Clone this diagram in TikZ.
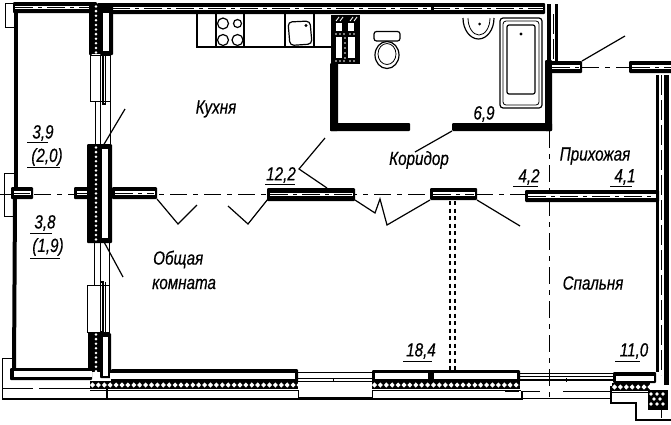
\documentclass[tikz,border=0pt]{standalone}
\usepackage{fontspec}
\setmainfont[ItalicFeatures={FakeBold=0.5}]{Liberation Sans}
\tikzset{
  x=1pt,y=-1pt,
  thinline/.style={draw=black,line width=.8pt},
  midline/.style={draw=black,line width=1.2pt},
  axisline/.style={draw=black,line width=1pt,dash pattern=on 17pt off 6pt on 5pt off 6pt},
  roomtext/.style={font=\itshape\fontsize{19}{21}\selectfont,xscale=.8,inner sep=0pt,anchor=center},
  underl/.style={draw=black,line width=1pt},
}
\newcommand{\wallbar}[4]{\fill[black,rounded corners=1pt] (#1,#2) rectangle (#3,#4);}
\newcommand{\hwall}[4]{\wallbar{#1}{#2}{#3}{#4}
  \fill[white] ({#1+2.5},{(#2+#4)/2-1.8}) rectangle ({#3-2.5},{(#2+#4)/2+1.8});
  \draw[black,line width=.9pt,dash pattern=on 18pt off 5pt on 4pt off 5pt] ({#1+3},{(#2+#4)/2}) -- ({#3-3},{(#2+#4)/2});}
\newcommand{\hhatch}[3]{\fill[black] (#1,{#3-4}) rectangle (#2,{#3+4});
  \pgfmathsetmacro{\xnext}{#1+5.9}
  \foreach \px in {#1,\xnext,...,#2}{\fill[white] (\px+2.5,#3-2.6) -- (\px+5,#3) -- (\px+2.5,#3+2.6) -- (\px,#3) -- cycle;}}
\newcommand{\vhatch}[3]{\fill[black] ({#3-4.5},#1) rectangle ({#3+4.5},#2);
  \pgfmathsetmacro{\ynext}{#1+4.6}
  \foreach \py in {#1,\ynext,...,#2}{\fill[white] (#3,\py+1.5) circle[radius=1.4];}}
\begin{document}
\begin{tikzpicture}
\useasboundingbox (0,0) rectangle (671,424);
\fill[white] (0,0) rectangle (671,424);

% axes
\draw[axisline] (0,194) -- (549,194);
\draw[axisline] (549,131) -- (549,401);
\draw[axisline] (582,67) -- (632,67);
% dotted partition
\draw[black,line width=2pt,dash pattern=on 4pt off 3.5pt] (449.5,201) -- (449.5,370);
\draw[black,line width=2pt,dash pattern=on 4pt off 3.5pt] (454.5,201) -- (454.5,370);

% top wall
\wallbar{13}{2}{97}{13}
\fill[white] (15,5.5) rectangle (95,9);
\wallbar{97}{3}{545}{14}
\fill[white] (112,6.5) rectangle (431,9.5);
\fill[white] (434,6.5) rectangle (543,9.5);
\draw[black,line width=.9pt,dash pattern=on 18pt off 5pt on 4pt off 5pt] (15,7) -- (95,7);
\draw[black,line width=.9pt,dash pattern=on 18pt off 5pt on 4pt off 5pt] (112,8) -- (543,8);
% left balcony
\draw[thinline] (15,3) -- (5,3) -- (5,27) -- (15,27);
\draw[black,line width=4pt] (16,13) -- (16,187);
\draw[black,line width=4pt] (15,199) -- (14,370);
\draw[thinline] (14,173) -- (4,173) -- (4,216) -- (13,216);
\hwall{11}{187}{33}{199}
\hwall{74}{187}{92}{199}

% left facade piers
\vhatch{5}{54}{96}
\wallbar{89}{4}{92}{55}
\wallbar{100}{5}{113}{55}
\fill[white] (103,13) rectangle (109,51);
\wallbar{87}{144}{112}{243}
\vhatch{146}{241}{96}
\fill[white] (102,149) rectangle (108,238);
\wallbar{88}{332}{92}{372}
\vhatch{333}{372}{96}
\wallbar{100}{333}{111}{378}
\fill[white] (102.5,337) rectangle (108,376);
% windows left
\draw[thinline] (90,55) rectangle (110,101);
\draw[thinline] (100,55) -- (100,101);
\draw[midline] (103,55) rectangle (105.5,104);
\draw[thinline] (95,101) -- (95,144) (100,101) -- (100,144) (110,101) -- (110,146);
\draw[thinline] (94,243) -- (94,285) (100,243) -- (100,285) (109,243) -- (109,285);
\draw[thinline] (87.5,285) rectangle (109,332);
\draw[thinline] (100,285) -- (100,332);
\draw[midline] (100.5,282) rectangle (103,332);
\draw[thinline] (105,282) -- (105,332);
% leader lines at piers
\draw[midline] (103,146) -- (125,109);
\draw[midline] (103,240) -- (123,277);

% balcony bottom
\wallbar{10}{368}{92}{380}
\fill[white] (14,371) rectangle (92,377);
\draw[thinline] (14,358) -- (2,358) -- (2,399);
\draw[midline] (2,399) -- (330,399);
\draw[thinline,line width=1pt] (2,388) -- (33,388) (39,388) -- (90,388);

% bottom wall
\wallbar{111}{369}{298}{382}
\fill[white] (110,373) rectangle (295,379);
\hhatch{90}{298}{385}
\fill[white] (90,389.5) rectangle (298,398);
\draw[black,line width=1pt] (90,390) -- (298,390);
\draw[midline] (107,388) -- (107,400);
\draw[midline] (298,399) -- (372,399) -- (402,399);
\draw[line width=1pt] (298,390) -- (298,399) (372,390) -- (372,399);
\wallbar{372}{370}{520}{382}
\fill[white] (375,373) rectangle (428,379);
\fill[white] (434,373) rectangle (517,379);
\hhatch{372}{520}{385}
\fill[white] (373,389.5) rectangle (521,398);
\draw[black,line width=1pt] (373,390) -- (521,390);
\draw[midline] (400,399) -- (522,399) -- (522,391);
\draw[thinline] (505,391) -- (519,391);
% window bottom mid
\draw[thinline] (298,372) -- (372,372);
\draw[thinline] (298,378) -- (372,378);
\draw[thinline] (298,381) -- (372,381);
\draw[thinline] (298,397) -- (372,397);
\draw[thinline] (333,378) -- (333,381);
% window bottom right
\draw[thinline] (520,373) -- (613,373);
\draw[midline] (520,380) -- (613,380);
\draw[thinline] (520,376) -- (613,376);
\draw[thinline] (566,378) -- (566,382);
\draw[thinline] (522,391) -- (540,391) (563,391) -- (610,391);
\draw[thinline] (522,398) -- (612,398);
% bottom right wall
\wallbar{613}{372}{656}{383}
\fill[white] (616,376) rectangle (654,381);
\hhatch{612}{650}{387}
\draw[midline] (611,386) -- (611,403) -- (636,403) -- (636,420) -- (671,420);
\draw[thinline] (612,392) -- (649,392);
% corner block
\fill[black] (648,390) rectangle (668,410);
\foreach \px/\py in {651/394,657/394,663/394,654/399,660/399,651/404,657/404,663/404}
  {\fill[white] (\px,\py) circle[radius=1.8];}
\draw[thinline] (661,410) -- (661,418);

% right wall
\fill[black] (656,75) rectangle (659,372);
\fill[black] (664,75) rectangle (669,385);
\draw[black,line width=1pt,dash pattern=on 20pt off 5pt] (661.5,75) -- (661.5,375);
\hwall{629}{61}{674}{73}
\hwall{525}{190}{658}{202}
\wallbar{656}{190}{659}{202}

% corridor walls
\fill[black] (547,4) rectangle (551,62);
\fill[black] (555,4) rectangle (557.5,62);
\draw[black,line width=1pt,dash pattern=on 20pt off 5pt] (553,14) -- (553,60);
\wallbar{545}{60}{552}{131}
\hwall{549}{61}{582}{73}
\wallbar{452}{123}{552}{131}
\wallbar{330}{123}{410}{131}
\wallbar{330}{63}{338}{131}
% shaft
\fill[black] (331,15) rectangle (360,64);
\fill[white] (336,23) rectangle (342,31);
\fill[white] (348,23) rectangle (354,31);
\fill[white] (336,37) rectangle (342,58);
\fill[white] (348,37) rectangle (355,58);
\foreach \sx in {336,340,350,354}{\draw[white,line width=.9pt] (\sx,21) -- (\sx+3,17);}
\foreach \sx in {336,340,344,350,354}{\fill[white] (\sx,34) circle[radius=.8];\fill[white] (\sx,61) circle[radius=.8];}
\foreach \sy in {38,43,48,53,58}{\fill[white] (345,\sy) circle[radius=.8];}

% interior piers
\hwall{267}{188}{355}{201}
\hwall{430}{188}{477}{200}
\hwall{112}{187}{157}{199}

% door leaves
\draw[midline] (157,199) -- (178,224) -- (197,205);
\draw[midline] (228,206) -- (248,224) -- (268,199);
\draw[midline] (355,200) -- (375,213) -- (380,199) -- (387,225) -- (430,200);
\draw[midline] (477,200) -- (520,226);
\draw[midline] (327,188) -- (299,169) -- (325,138);
\draw[midline] (415,152) -- (452,131);
\draw[midline] (582,61) -- (625,36);

% kitchen counter
\draw[midline] (331,47) -- (197,47) -- (197,14);
\draw[midline] (216,14) -- (216,47) (244,14) -- (244,47) (285,14) -- (285,47) (314,14) -- (314,47);
\draw[midline] (223,23.5) circle[radius=5.5];
\draw[midline] (237.5,23.5) circle[radius=4];
\draw[midline] (223,40) circle[radius=5.5];
\draw[midline] (237.5,40) circle[radius=5.5];
\draw[midline,rounded corners=4pt] (288,22) -- (310,21) -- (312,44) -- (290,45.5) -- cycle;
\fill[black] (306,25.5) circle[radius=1.6];

% toilet
\draw[midline,rounded corners=2.5pt] (374,31.5) rectangle (400,41);
\draw[midline] (387,55) ellipse[x radius=12,y radius=13.5];
\draw[thinline] (387,54) ellipse[x radius=9,y radius=10.5];

% basin
\draw[midline] (463,18) arc[start angle=180,end angle=0,x radius=15.5,y radius=21];
\draw[thinline] (468,18) arc[start angle=180,end angle=0,x radius=11,y radius=17];
\fill[black] (479.5,24) circle[radius=1.5];

% bathtub
\draw[midline,rounded corners=3pt] (500,18) rectangle (542,108);
\draw[thinline,rounded corners=3pt] (503,21) rectangle (539,105);
\draw[midline,rounded corners=2pt] (507,25) rectangle (535,94);
\fill[black] (521,34) circle[radius=1.6];

% texts
\node[roomtext] (kitchen) at (216,109) {Кухня};
\node[roomtext] (hall) at (419,160) {Коридор};
\node[roomtext] (entry) at (595,156) {Прихожая};
\node[roomtext,anchor=west] (living1) at (153,259.5) {Общая};
\node[roomtext,anchor=west] (living2) at (152,284) {комната};
\node[roomtext] (bedroom) at (593,283) {Спальня};
\node[roomtext] (a39) at (43,133) {3,9};
\node[roomtext] (a20) at (47,157) {(2,0)};
\node[roomtext] (a38) at (45,223) {3,8};
\node[roomtext] (a19) at (48,247) {(1,9)};
\node[roomtext] (a122) at (281,175) {12,2};
\node[roomtext] (a69) at (484,114) {6,9};
\node[roomtext] (a42) at (529,177) {4,2};
\node[roomtext] (a41) at (625,177) {4,1};
\node[roomtext] (a184) at (421,351) {18,4};
\node[roomtext] (a110) at (634,351) {11,0};
% underlines
\draw[underl] (27,142) -- (48,142);
\draw[underl] (27,167.5) -- (60,167.5);
\draw[underl] (30,233) -- (52,233);
\draw[underl] (30,258) -- (60,258);
\draw[underl] (265,184) -- (295,184);
\draw[underl] (513,186) -- (538,186);
\draw[underl] (610,186) -- (632,186);
\draw[underl] (403,361) -- (432,361);
\draw[underl] (615,361) -- (640,361);
\end{tikzpicture}
\end{document}
